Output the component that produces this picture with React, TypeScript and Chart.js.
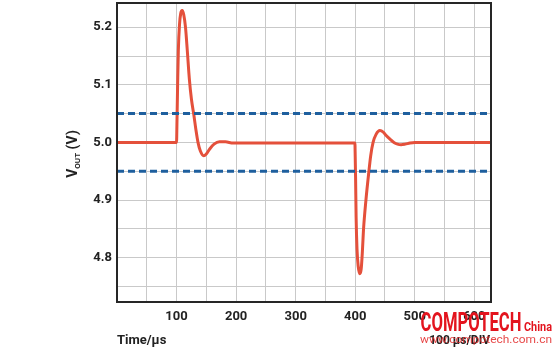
import React, { useEffect, useRef } from 'react';
import { Chart, registerables } from 'chart.js';

Chart.register(...registerables);

// Output voltage transient (time in µs, voltage in V)
const timeUs = [
  0, 100, 100.6, 101.8, 103, 105, 107, 109.5, 112, 115, 118, 121.5, 125, 129, 132.5, 136, 140,
  145.5, 150, 156, 163, 172, 182, 195, 250, 300, 350, 399.5, 400, 400.6, 401.5, 403, 405, 407.6,
  410, 412, 414, 418, 423, 426, 430, 435, 441.5, 447, 452, 458, 465, 471, 477, 484, 492, 500, 628,
];
const voutV = [
  5.0, 5.0, 5.03, 5.1, 5.16, 5.205, 5.224, 5.229, 5.222, 5.2, 5.16, 5.11, 5.075, 5.048, 5.022,
  5.0, 4.985, 4.977, 4.98, 4.989, 4.997, 5.001, 5.001, 4.999, 4.999, 4.999, 4.999, 4.999, 4.975,
  4.94, 4.87, 4.815, 4.785, 4.772, 4.78, 4.81, 4.85, 4.9, 4.95, 4.977, 5.0, 5.014, 5.0205, 5.018,
  5.012, 5.006, 5.0, 4.997, 4.996, 4.997, 4.999, 5.0, 5.0,
];

// Tolerance band
const limitTime = [0, 628];
const upperLimit = [5.05, 5.05];
const lowerLimit = [4.95, 4.95];

// Axes
const xMin = 0;
const xMax = 628;
const yMin = 4.723;
const yMax = 5.242;
const xGridTicks = [0, 50, 100, 150, 200, 250, 300, 350, 400, 450, 500, 550, 600];
const xTickLabels = ['', '', '100', '', '200', '', '300', '', '400', '', '500', '', '600'];
const yGridTicks = [4.75, 4.8, 4.85, 4.9, 4.95, 5.0, 5.05, 5.1, 5.15, 5.2];
const yTickLabels = ['', '4.8', '', '4.9', '', '5.0', '', '5.1', '', '5.2'];

const xAxisTitle = 'Time/µs';
const divLabel = '100 µs/DIV';
const yTitleMain = 'V';
const yTitleSub = 'OUT';
const yTitleUnit = ' (V)';
const watermarkBig = 'COMPOTECH';
const watermarkSmall = 'China';
const watermarkUrl = 'www.compotech.com.cn';

const FONT = 'Roboto, "DejaVu Sans", sans-serif';

const decorPlugin = {
  id: 'decor',
  afterDraw(chart: any) {
    const { ctx, chartArea } = chart;
    const { left, top, right, bottom } = chartArea;
    ctx.save();
    // frame
    ctx.strokeStyle = '#262626';
    ctx.lineWidth = 2;
    ctx.strokeRect(left, top, right - left, bottom - top);

    // x axis title
    ctx.fillStyle = '#222';
    ctx.font = `bold 13px ${FONT}`;
    ctx.textBaseline = 'middle';
    ctx.textAlign = 'left';
    ctx.fillText(xAxisTitle, 117, 341);

    // 100 µs/DIV
    ctx.font = `bold 12px ${FONT}`;
    ctx.textAlign = 'right';
    ctx.fillText(divLabel, 490, 341);

    // y axis title with subscript
    ctx.save();
    ctx.translate(72, 154);
    ctx.rotate(-Math.PI / 2);
    ctx.textAlign = 'left';
    ctx.textBaseline = 'alphabetic';
    const fMain = `bold 14px ${FONT}`;
    const fSub = `bold 8px ${FONT}`;
    ctx.font = fMain;
    const wV = ctx.measureText(yTitleMain).width;
    const wU = ctx.measureText(yTitleUnit).width;
    ctx.font = fSub;
    const wS = ctx.measureText(yTitleSub).width;
    const total = wV + wS + wU;
    let x0 = -total / 2;
    ctx.font = fMain;
    ctx.fillText(yTitleMain, x0, 5);
    x0 += wV;
    ctx.font = fSub;
    ctx.fillText(yTitleSub, x0, 8);
    x0 += wS;
    ctx.font = fMain;
    ctx.fillText(yTitleUnit, x0, 5);
    ctx.restore();

    // watermark
    ctx.fillStyle = '#e3141e';
    ctx.textAlign = 'left';
    ctx.textBaseline = 'alphabetic';
    ctx.save();
    ctx.font = `bold 26px ${FONT}`;
    const wBig = ctx.measureText(watermarkBig).width;
    ctx.translate(420.5, 331);
    ctx.scale(101 / wBig, 1);
    ctx.fillText(watermarkBig, 0, 0);
    ctx.restore();

    ctx.save();
    ctx.font = `bold 12px ${FONT}`;
    const wCh = ctx.measureText(watermarkSmall).width;
    ctx.translate(524, 331);
    ctx.scale(28 / wCh, 1);
    ctx.fillText(watermarkSmall, 0, 0);
    ctx.restore();

    ctx.save();
    ctx.fillStyle = 'rgba(227, 40, 40, 0.85)';
    ctx.font = `10px ${FONT}`;
    const wUrl = ctx.measureText(watermarkUrl).width;
    ctx.translate(420, 343);
    ctx.scale(132 / wUrl, 1);
    ctx.fillText(watermarkUrl, 0, 0);
    ctx.restore();

    ctx.restore();
  },
};

export default function App() {
  const canvasRef = useRef<HTMLCanvasElement | null>(null);

  useEffect(() => {
    const canvas = canvasRef.current;
    if (!canvas) return;
    const chart = new Chart(canvas, {
      type: 'line',
      data: {
        datasets: [
          {
            label: 'upper',
            data: limitTime.map((t, i) => ({ x: t, y: upperLimit[i] })),
            borderColor: '#1e5f9e',
            borderWidth: 3,
            borderDash: [7, 4],
            pointRadius: 0,
            fill: false,
          },
          {
            label: 'lower',
            data: limitTime.map((t, i) => ({ x: t, y: lowerLimit[i] })),
            borderColor: '#1e5f9e',
            borderWidth: 3,
            borderDash: [7, 4],
            pointRadius: 0,
            fill: false,
          },
          {
            label: 'VOUT',
            data: timeUs.map((t, i) => ({ x: t, y: voutV[i] })),
            borderColor: '#e4503b',
            borderWidth: 3,
            pointRadius: 0,
            cubicInterpolationMode: 'monotone',
            fill: false,
          },
        ],
      },
      options: {
        animation: false,
        responsive: false,
        maintainAspectRatio: false,
        layout: { padding: { left: 0, right: 69, top: 3, bottom: 0 } },
        plugins: { legend: { display: false }, tooltip: { enabled: false } },
        scales: {
          x: {
            type: 'linear',
            min: xMin,
            max: xMax,
            afterBuildTicks: (axis: any) => {
              axis.ticks = xGridTicks.map((v) => ({ value: v }));
            },
            afterFit: (scale: any) => {
              scale.height = 48;
              scale.paddingLeft = 0;
              scale.paddingRight = 0;
            },
            ticks: {
              autoSkip: false,
              maxRotation: 0,
              padding: 7,
              color: '#222',
              font: { family: FONT, size: 13, weight: 'bold' },
              callback: (_v: any, i: number) => xTickLabels[i],
            },
            grid: { color: '#c9c9c9', lineWidth: 1, drawTicks: false },
            border: { display: false },
          },
          y: {
            type: 'linear',
            min: yMin,
            max: yMax,
            afterBuildTicks: (axis: any) => {
              axis.ticks = yGridTicks.map((v) => ({ value: v }));
            },
            afterFit: (scale: any) => {
              scale.width = 117;
              scale.paddingTop = 0;
              scale.paddingBottom = 0;
            },
            ticks: {
              autoSkip: false,
              padding: 5,
              color: '#222',
              font: { family: FONT, size: 13, weight: 'bold' },
              callback: (_v: any, i: number) => yTickLabels[i],
            },
            grid: { color: '#c9c9c9', lineWidth: 1, drawTicks: false },
            border: { display: false },
          },
        },
      },
      plugins: [decorPlugin],
    } as any);
    return () => chart.destroy();
  }, []);

  return (
    <div style={{ position: 'fixed', left: 0, top: 0, width: 560, height: 350, background: '#fff' }}>
      <canvas ref={canvasRef} width={560} height={350} style={{ width: 560, height: 350, display: 'block' }} />
    </div>
  );
}
